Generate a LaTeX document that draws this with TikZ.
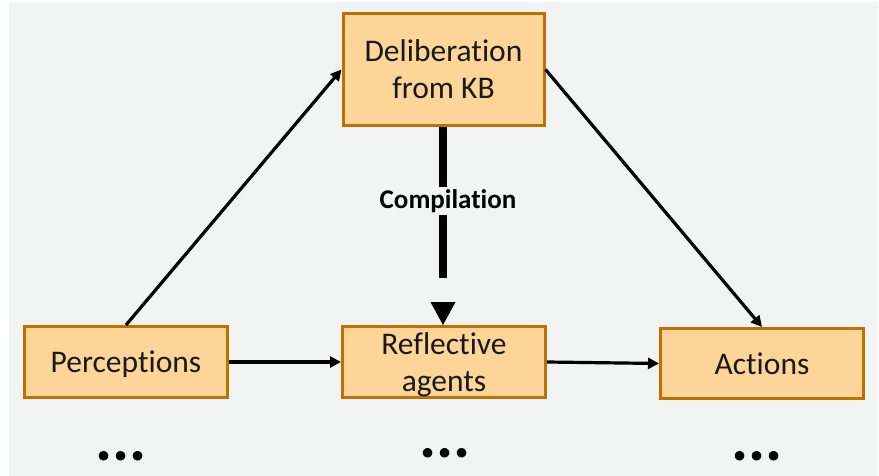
\documentclass[tikz,border=0pt]{standalone}
\usepackage{fontspec}
\setmainfont{Carlito}[RawFeature=-liga]
\usetikzlibrary{arrows.meta}
\definecolor{bgpanel}{RGB}{242,243,243}
\definecolor{boxfill}{RGB}{254,213,153}
\definecolor{boxline}{RGB}{192,112,0}
\begin{document}
\begin{tikzpicture}[x=1pt,y=-1pt,
  stagebox/.style={draw=boxline,line width=3pt,fill=boxfill,inner sep=0pt,
    align=center,text depth=0pt,font=\fontsize{31.5}{37}\selectfont,text=black!90},
  flow/.style={line width=3.2pt,-{Triangle[length=11pt,width=11pt]}},
  etc/.style={font=\fontsize{64}{64}\selectfont\bfseries,inner sep=0pt}]
  \useasboundingbox (0,0) rectangle (879,476);
  \fill[bgpanel] (9,2) rectangle (878,476);

  % the four stages
  \node[stagebox,minimum width=201pt,minimum height=112pt] (delib) at (443.5,69.5) {Deliberation\\from KB};
  \node[stagebox,minimum width=203pt,minimum height=71pt] (perc) at (126,362) {Perceptions};
  \node[stagebox,minimum width=203pt,minimum height=71pt] (refl) at (444,362) {Reflective\\agents};
  \node[stagebox,minimum width=203pt,minimum height=70pt] (act) at (762,363.5) {Actions};

  % ordinary flow of control
  \draw[flow] (perc.north) -- (delib.west);
  \draw[flow] (delib.east) -- (act.north);
  \draw[flow] (perc.east) -- (refl.west);
  \draw[flow] (refl.east) -- (act.west);

  % compilation: thick shaft, detached triangular head
  \coordinate (shaftend) at (443,278);
  \draw[line width=8pt] (delib.south -| shaftend) -- (shaftend);
  \fill (refl.north -| shaftend) -- ++(-12.5,-23) -- ++(25,0) -- cycle;
  \node[fill=bgpanel,inner sep=2pt,font=\fontsize{27}{30}\selectfont\bfseries] (comp) at (448,201) {Compilation};

  % continuation marks
  \node[etc] (etcA) at (121,456) {...};
  \node[etc] (etcB) at (445,453) {...};
  \node[etc] (etcC) at (757,456) {...};
\end{tikzpicture}
\end{document}
